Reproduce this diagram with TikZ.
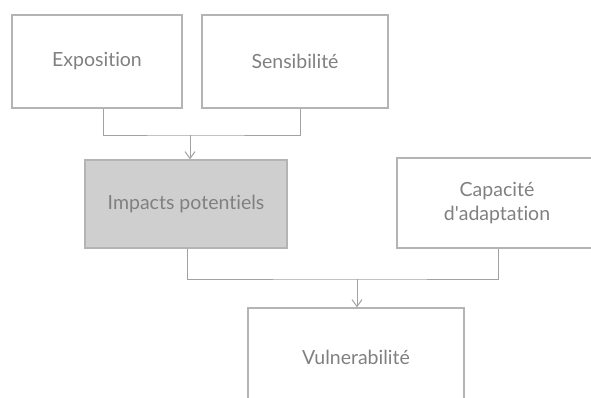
\documentclass[tikz,border=0pt]{standalone}
\usepackage{fontspec}
\setmainfont[Ligatures={NoCommon}]{Lato}
\usetikzlibrary{arrows.meta}
\definecolor{boxline}{HTML}{B4B4B4}
\definecolor{txt}{HTML}{808080}
\definecolor{fillgray}{HTML}{CFCFCF}
\begin{document}
\begin{tikzpicture}[x=1pt,y=-1pt,
  box/.style={draw=boxline, line width=1.2pt, text=txt, font=\fontsize{19.5}{24}\selectfont, align=center, inner sep=0pt},
  conn/.style={draw=boxline!90!black, line width=1pt},
  arr/.style={conn, ->, >={Straight Barb[length=7pt,width=10pt]}}]
\useasboundingbox (0,0) rectangle (591,397);
\clip (0,0) rectangle (591,397);
\node[box, minimum width=170pt, minimum height=93pt] (expo) at (97,61.5) {Exposition};
\node[box, minimum width=186pt, minimum height=93pt] (sens) at (295,61.5) {Sensibilité};
\node[box, fill=fillgray, minimum width=202pt, minimum height=88pt] (imp) at (186,204) {Impacts potentiels};
\node[box, minimum width=200pt, minimum height=90pt] (cap) at (497,203) {Capacité\\d\textquotesingle adaptation};
\node[box, minimum width=216pt, minimum height=98pt] (vul) at (356,357) {Vulnerabilité};
\coordinate (j1) at (190,135);
\coordinate (j2) at (357,279);
\draw[conn] (expo.south -| 103,0) |- (j1) -| (sens.south -| 300,0);
\draw[arr] (j1) -- (imp.north -| j1);
\draw[conn] (imp.south -| 187,0) |- (j2) -| (cap.south -| 498,0);
\draw[arr] (j2) -- (vul.north -| j2);
\end{tikzpicture}
\end{document}
